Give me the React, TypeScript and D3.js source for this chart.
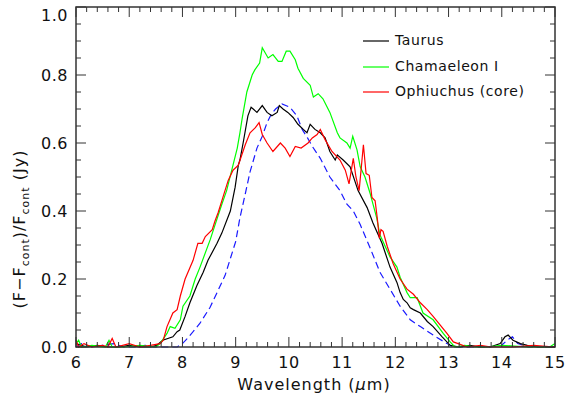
import * as d3 from "d3";

// Taurus (black)
const taurusWave = [6.0, 6.2, 6.4, 6.6, 6.8, 7.0, 7.2, 7.4, 7.52, 7.63, 7.82, 7.9, 7.95, 8.05, 8.14, 8.27, 8.39, 8.48, 8.65, 8.74, 8.9, 8.99, 9.05, 9.08, 9.14, 9.23, 9.29, 9.33, 9.4, 9.5, 9.59, 9.68, 9.78, 9.82, 9.89, 9.98, 10.08, 10.17, 10.27, 10.34, 10.4, 10.49, 10.59, 10.68, 10.77, 10.87, 10.91, 11.02, 11.15, 11.3, 11.47, 11.58, 11.75, 11.9, 12.03, 12.09, 12.15, 12.22, 12.28, 12.34, 12.47, 12.6, 12.71, 12.88, 13.03, 13.2, 13.4, 13.6, 13.78, 13.97, 14.06, 14.12, 14.21, 14.35, 14.48, 14.67, 15.0];
const taurusFlux = [0.01, 0.0, 0.005, 0.0, 0.0, 0.005, 0.0, 0.0, 0.005, 0.02, 0.03, 0.045, 0.05, 0.09, 0.13, 0.18, 0.22, 0.255, 0.305, 0.335, 0.4, 0.47, 0.535, 0.55, 0.6, 0.68, 0.705, 0.7, 0.69, 0.71, 0.69, 0.68, 0.69, 0.71, 0.7, 0.69, 0.675, 0.655, 0.64, 0.63, 0.655, 0.64, 0.63, 0.615, 0.575, 0.55, 0.565, 0.55, 0.53, 0.46, 0.41, 0.365, 0.305, 0.235, 0.19, 0.16, 0.14, 0.13, 0.115, 0.11, 0.1, 0.075, 0.06, 0.03, 0.005, 0.0, 0.005, 0.0, 0.0, 0.01, 0.03, 0.035, 0.02, 0.01, 0.005, 0.0, 0.0];

// Chamaeleon I (green)
const chamWave = [6.0, 6.05, 6.1, 6.3, 6.55, 6.62, 6.68, 6.9, 7.2, 7.5, 7.58, 7.71, 7.77, 7.86, 7.96, 8.01, 8.14, 8.2, 8.24, 8.33, 8.52, 8.74, 8.83, 8.95, 9.03, 9.08, 9.12, 9.21, 9.31, 9.36, 9.45, 9.5, 9.61, 9.7, 9.8, 9.87, 9.95, 10.02, 10.12, 10.17, 10.27, 10.4, 10.46, 10.55, 10.64, 10.77, 10.91, 10.96, 11.09, 11.15, 11.2, 11.28, 11.34, 11.43, 11.53, 11.58, 11.65, 11.71, 11.9, 12.03, 12.09, 12.22, 12.28, 12.41, 12.52, 12.71, 12.9, 13.03, 13.12, 13.3, 13.5, 13.7, 14.0, 14.5, 14.9, 15.0];
const chamFlux = [0.01, 0.02, 0.0, 0.005, 0.0, 0.02, 0.0, 0.0, 0.005, 0.0, 0.01, 0.04, 0.06, 0.055, 0.08, 0.12, 0.15, 0.18, 0.2, 0.235, 0.315, 0.42, 0.46, 0.535, 0.585, 0.63, 0.67, 0.75, 0.8, 0.815, 0.835, 0.88, 0.85, 0.86, 0.84, 0.84, 0.87, 0.87, 0.845, 0.82, 0.79, 0.77, 0.735, 0.745, 0.73, 0.69, 0.63, 0.615, 0.6, 0.585, 0.62, 0.58, 0.53, 0.5, 0.45, 0.42, 0.38, 0.33, 0.265, 0.235, 0.205, 0.16, 0.145, 0.145, 0.1, 0.08, 0.04, 0.015, 0.0, 0.005, 0.0, 0.0, 0.005, 0.0, 0.0, 0.01];

// Ophiuchus (core) (red)
const ophWave = [6.0, 6.05, 6.15, 6.3, 6.5, 6.6, 6.68, 6.75, 7.0, 7.2, 7.4, 7.58, 7.64, 7.71, 7.82, 7.9, 7.96, 8.05, 8.2, 8.29, 8.37, 8.43, 8.56, 8.61, 8.67, 8.76, 8.86, 8.95, 9.05, 9.18, 9.27, 9.37, 9.44, 9.5, 9.59, 9.7, 9.84, 9.93, 10.02, 10.12, 10.23, 10.36, 10.44, 10.53, 10.59, 10.68, 10.81, 10.96, 11.06, 11.13, 11.21, 11.26, 11.32, 11.4, 11.45, 11.51, 11.56, 11.62, 11.66, 11.7, 11.73, 11.77, 11.85, 11.96, 12.09, 12.22, 12.34, 12.47, 12.6, 12.71, 12.84, 12.97, 13.09, 13.18, 13.35, 13.6, 13.8, 14.2, 14.6, 15.0];
const ophFlux = [0.02, 0.0, 0.01, 0.0, 0.005, 0.0, 0.025, 0.0, 0.01, 0.0, 0.005, 0.01, 0.02, 0.06, 0.1, 0.11, 0.15, 0.2, 0.255, 0.305, 0.305, 0.325, 0.345, 0.37, 0.395, 0.44, 0.49, 0.52, 0.535, 0.595, 0.63, 0.645, 0.66, 0.625, 0.6, 0.575, 0.6, 0.585, 0.56, 0.59, 0.585, 0.6, 0.615, 0.625, 0.64, 0.61, 0.575, 0.55, 0.52, 0.48, 0.555, 0.5, 0.46, 0.595, 0.51, 0.505, 0.44, 0.43, 0.38, 0.32, 0.345, 0.34, 0.295, 0.245, 0.2, 0.17, 0.155, 0.13, 0.11, 0.09, 0.065, 0.04, 0.015, 0.01, 0.0, 0.005, 0.0, 0.0, 0.005, 0.0];

// model (blue dashed)
const modelWave = [6.0, 6.1, 6.3, 6.5, 6.7, 6.9, 7.1, 7.3, 7.45, 7.9, 8.0, 8.09, 8.2, 8.33, 8.52, 8.71, 8.8, 8.9, 9.0, 9.08, 9.18, 9.27, 9.4, 9.5, 9.59, 9.67, 9.75, 9.87, 10.02, 10.15, 10.25, 10.35, 10.44, 10.59, 10.77, 10.96, 11.09, 11.21, 11.34, 11.53, 11.71, 11.9, 12.09, 12.28, 12.47, 12.71, 12.97, 13.09, 13.5, 13.8, 14.0, 14.1, 14.2, 14.3, 14.5, 15.0];
const modelFlux = [0.0, 0.01, 0.0, 0.005, 0.01, 0.0, 0.0, 0.005, 0.0, 0.0, 0.01, 0.025, 0.045, 0.07, 0.117, 0.18, 0.21, 0.26, 0.31, 0.38, 0.45, 0.515, 0.585, 0.62, 0.66, 0.685, 0.7, 0.715, 0.705, 0.68, 0.64, 0.615, 0.59, 0.555, 0.5, 0.46, 0.42, 0.4, 0.36, 0.29, 0.22, 0.17, 0.12, 0.08, 0.06, 0.035, 0.01, 0.0, 0.0, 0.0, 0.005, 0.02, 0.03, 0.01, 0.0, 0.0];

const legendNames = ["Taurus", "Chamaeleon I", "Ophiuchus (core)"];
const xTicks = [6, 7, 8, 9, 10, 11, 12, 13, 14, 15];
const yTicks = [0.0, 0.2, 0.4, 0.6, 0.8, 1.0];

const W = 565;
const H = 401;
const left = 76;
const right = 555;
const top = 7;
const bottom = 347;
const font = "'DejaVu Sans', sans-serif";

export default function App() {
  const x = d3.scaleLinear().domain([6, 15]).range([left, right]);
  const y = d3.scaleLinear().domain([0, 1]).range([bottom, top]);
  const line = d3
    .line<[number, number]>()
    .x((d) => x(d[0]))
    .y((d) => y(d[1]));

  const zip = (a: number[], b: number[]) =>
    a.map((w, i) => [w, b[i]] as [number, number]);

  const series = [
    { pts: zip(modelWave, modelFlux), color: "#1a1aff", dash: "7,4" },
    { pts: zip(taurusWave, taurusFlux), color: "#000000", dash: null },
    { pts: zip(chamWave, chamFlux), color: "#00ff00", dash: null },
    { pts: zip(ophWave, ophFlux), color: "#ff0000", dash: null },
  ];
  const legendColors = ["#000000", "#00ff00", "#ff0000"];

  const xMinor = d3.range(6, 15.0001, 0.2);
  const yMinor = d3.range(0, 1.0001, 0.05);

  return (
    <svg
      width={W}
      height={H}
      style={{ position: "absolute", left: 0, top: 0, background: "#fff" }}
    >
      {/* data */}
      {series.map((s, i) => (
        <path
          key={i}
          d={line(s.pts) || ""}
          fill="none"
          stroke={s.color}
          strokeWidth={1.2}
          strokeDasharray={s.dash || undefined}
        />
      ))}

      {/* frame */}
      <rect
        x={left}
        y={top}
        width={right - left}
        height={bottom - top}
        fill="none"
        stroke="#333"
        strokeWidth={1.5}
      />
      {xMinor.map((v, i) => {
        const major = Math.abs(v - Math.round(v)) < 1e-6;
        const len = major ? 10 : 5;
        return (
          <g key={"xt" + i} stroke="#333" strokeWidth={1}>
            <line x1={x(v)} x2={x(v)} y1={bottom} y2={bottom - len} />
            <line x1={x(v)} x2={x(v)} y1={top} y2={top + len} />
          </g>
        );
      })}
      {yMinor.map((v, i) => {
        const major = Math.abs(v * 5 - Math.round(v * 5)) < 1e-6;
        const len = major ? 10 : 5;
        return (
          <g key={"yt" + i} stroke="#333" strokeWidth={1}>
            <line x1={left} x2={left + len} y1={y(v)} y2={y(v)} />
            <line x1={right} x2={right - len} y1={y(v)} y2={y(v)} />
          </g>
        );
      })}

      {/* tick labels */}
      {xTicks.map((t) => (
        <text
          key={"xl" + t}
          x={x(t)}
          y={368}
          textAnchor="middle"
          fontFamily={font}
          fontSize={16}
          letterSpacing={0.5}
          fill="#111"
        >
          {t}
        </text>
      ))}
      {yTicks.map((t) => (
        <text
          key={"yl" + t}
          x={68}
          y={Math.max(y(t) + 6, 21)}
          textAnchor="end"
          fontFamily={font}
          fontSize={16}
          letterSpacing={0.5}
          fill="#111"
        >
          {t.toFixed(1)}
        </text>
      ))}

      {/* axis titles */}
      <text
        x={314}
        y={390}
        textAnchor="middle"
        fontFamily={font}
        fontSize={16}
        letterSpacing={1}
        fill="#111"
      >
        Wavelength (<tspan fontStyle="italic">μ</tspan>m)
      </text>
      <text
        transform="translate(25,229) rotate(-90)"
        textAnchor="middle"
        fontFamily={font}
        fontSize={16}
        letterSpacing={1}
        fill="#111"
      >
        (F−F<tspan fontSize={11} dy={4}>cont</tspan>
        <tspan dy={-4}>)/F</tspan>
        <tspan fontSize={11} dy={4}>cont</tspan>
        <tspan dy={-4}>  (Jy)</tspan>
      </text>

      {/* legend */}
      {legendNames.map((n, i) => {
        const ly = [41, 67, 92][i];
        return (
          <g key={n}>
            <line
              x1={363}
              x2={389}
              y1={ly}
              y2={ly}
              stroke={legendColors[i]}
              strokeWidth={1.2}
            />
            <text
              x={395}
              y={ly + 4}
              fontFamily={font}
              fontSize={14}
              letterSpacing={0.6}
              fill="#111"
            >
              {n}
            </text>
          </g>
        );
      })}
    </svg>
  );
}
